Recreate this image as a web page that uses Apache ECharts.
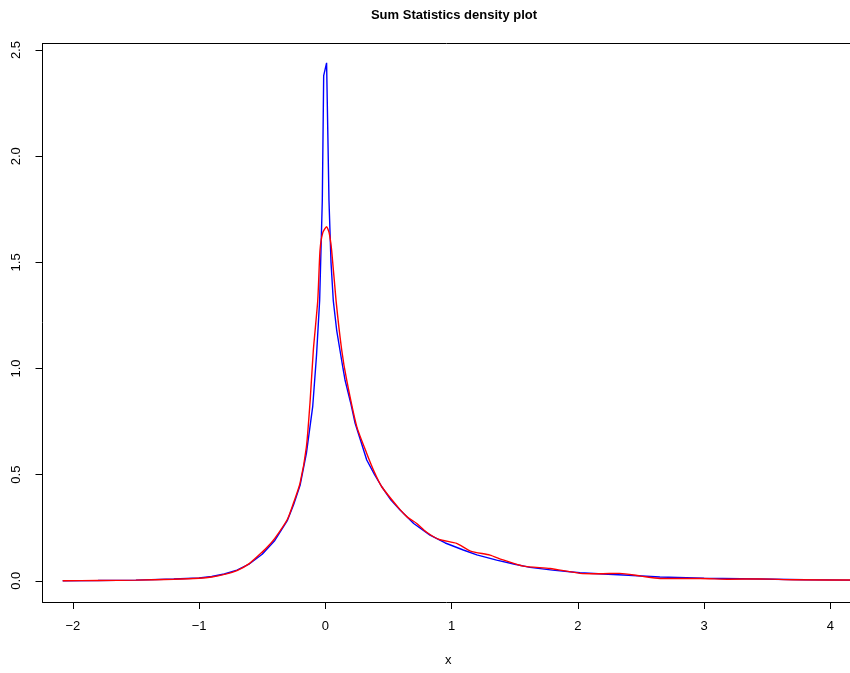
<!DOCTYPE html>
<html>
<head>
<meta charset="utf-8">
<script src="https://cdn.jsdelivr.net/npm/echarts@6/dist/echarts.min.js"></script>
<style>html,body{margin:0;padding:0;background:#fff;}#c{width:850px;height:673px;}</style>
</head>
<body>
<div id="c"></div>
<script>
const titleText = "Sum Statistics density plot";
const xLabel = "x";
const xTicks = [-2, -1, 0, 1, 2, 3, 4];
const yTicks = [0, 0.5, 1, 1.5, 2, 2.5];

const blueX = [-2.08,-1.8,-1.5,-1.2,-1.0,-0.9,-0.8,-0.7,-0.6,-0.5,-0.4,-0.3,-0.25,-0.2,-0.15,-0.1,-0.07,-0.045,-0.024,-0.013,0.01,0.02,0.029,0.045,0.063,0.09,0.116,0.14,0.156,0.2,0.236,0.28,0.328,0.39,0.447,0.52,0.592,0.7,0.829,0.95,1.093,1.2,1.357,1.5,1.621,1.8,2.017,2.2,2.4,2.65,3.0,3.44,3.8,4.2];
const blueY = [0.000,0.001,0.003,0.008,0.013,0.020,0.032,0.050,0.080,0.125,0.190,0.285,0.36,0.45,0.60,0.82,1.06,1.32,1.79,2.38,2.44,2.10,1.79,1.50,1.32,1.18,1.086,1.0,0.946,0.84,0.742,0.66,0.569,0.50,0.443,0.38,0.333,0.27,0.215,0.178,0.145,0.122,0.0975,0.078,0.063,0.050,0.038,0.032,0.026,0.018,0.012,0.008,0.005,0.003];

const redX = [-2.08,-1.8,-1.5,-1.2,-1.0,-0.9,-0.8,-0.7,-0.6,-0.5,-0.45,-0.4,-0.3,-0.25,-0.2,-0.15,-0.12,-0.095,-0.06,-0.042,-0.02,0.01,0.03,0.05,0.085,0.13,0.169,0.249,0.328,0.39,0.447,0.592,0.65,0.724,0.8,0.9,1.04,1.15,1.304,1.4,1.568,1.78,2.017,2.17,2.33,2.5,2.65,2.97,3.2,3.44,3.7,4.3];
const redY = [0.000,0.001,0.003,0.007,0.012,0.018,0.030,0.048,0.082,0.135,0.165,0.200,0.29,0.37,0.46,0.63,0.85,1.086,1.32,1.557,1.64,1.668,1.64,1.557,1.32,1.086,0.946,0.726,0.60,0.51,0.443,0.335,0.30,0.27,0.23,0.195,0.176,0.14,0.121,0.10,0.069,0.058,0.035,0.033,0.035,0.022,0.011,0.011,0.007,0.009,0.005,0.003];

function pairs(xs, ys) { return xs.map((x, i) => [x, ys[i]]); }
function fmtX(v) { return v < 0 ? '\u2212' + Math.abs(v) : String(v); }

const font = 'Liberation Sans, Arial, Helvetica, sans-serif';
const chart = echarts.init(document.getElementById('c'), null, {renderer: 'canvas'});
chart.setOption({
  animation: false,
  backgroundColor: '#fff',
  title: {
    text: titleText,
    left: 449, top: 4, textAlign: 'center',
    textStyle: {fontFamily: font, fontSize: 13, fontWeight: 'bold', color: '#000'}
  },
  grid: {
    left: 42.5, top: 43.5, width: 813, height: 558.5,
    show: false, containLabel: false, outerBoundsMode: 'none'
  },
  xAxis: [{
    type: 'value', min: -2.24, max: 4.199,
    axisLine: {show: true, onZero: false, lineStyle: {color: '#000', width: 1}},
    axisTick: {show: true, length: 7, customValues: xTicks, lineStyle: {color: '#000'}},
    axisLabel: {show: true, customValues: xTicks, margin: 18, formatter: fmtX,
      fontFamily: font, fontSize: 13, color: '#000'},
    splitLine: {show: false}
  }, {
    type: 'value', min: -2.24, max: 4.199, position: 'top',
    axisLine: {show: true, onZero: false, lineStyle: {color: '#000', width: 1}},
    axisTick: {show: false}, axisLabel: {show: false}, splitLine: {show: false}
  }],
  yAxis: {
    type: 'value', min: -0.1, max: 2.531,
    axisLine: {show: true, onZero: false, lineStyle: {color: '#000', width: 1}},
    axisTick: {show: true, length: 7, customValues: yTicks, lineStyle: {color: '#000'}},
    axisLabel: {show: true, customValues: yTicks, rotate: 90, margin: 20,
      formatter: v => v.toFixed(1), fontFamily: font, fontSize: 13, color: '#000'},
    splitLine: {show: false}
  },
  graphic: [{
    type: 'text', left: 445, top: 654,
    style: {text: xLabel, font: '13px ' + font, fill: '#000'}
  }],
  series: [
    {type: 'line', data: pairs(blueX, blueY), showSymbol: false, smooth: false,
      lineStyle: {color: '#0000ff', width: 1.4}, z: 2},
    {type: 'line', data: pairs(redX, redY), showSymbol: false, smooth: 0.2,
      lineStyle: {color: '#ff0000', width: 1.4}, z: 3}
  ]
});
</script>
</body>
</html>
